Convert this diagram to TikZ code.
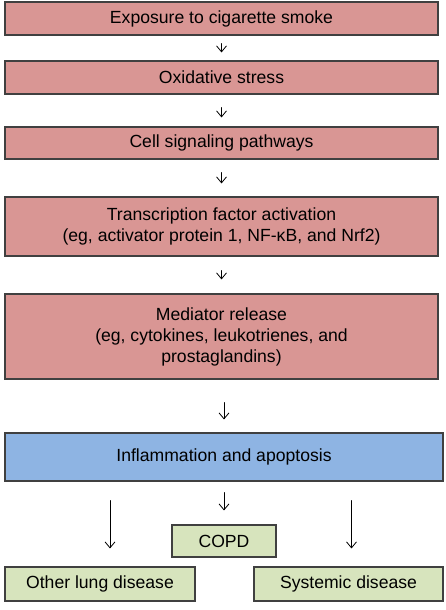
\documentclass[tikz,border=0pt]{standalone}
\usepackage{fontspec}
\setmainfont{Liberation Sans}
\usetikzlibrary{arrows.meta}
\definecolor{stepred}{HTML}{D99694}
\definecolor{stepblue}{HTML}{8EB4E3}
\definecolor{stepgreen}{HTML}{D7E4BD}
\definecolor{stepline}{HTML}{404040}
\begin{document}
\begin{tikzpicture}[x=1pt, y=-1pt, line cap=round]
    \tikzset{
      box/.style={rectangle, draw=stepline, line width=1.1pt, align=center,
        inner sep=0pt, font=\fontsize{17.6}{21}\selectfont},
      redbox/.style={box, fill=stepred, minimum width=433pt},
      flow/.style={-{Straight Barb[length=6pt, width=10pt]}, line width=0.8pt, black}
    }
  \useasboundingbox (0,0) rectangle (446,610);

  % the chain of events
  \node[redbox, minimum height=33pt] (smoke)  at (221.5,18.5)  {Exposure to cigarette smoke};
  \node[redbox, minimum height=33pt] (stress) at (221.5,77.5)  {Oxidative stress};
  \node[redbox, minimum height=32pt] (signal) at (221.5,143)   {Cell signaling pathways};
  \node[redbox, minimum height=59pt] (tf)     at (221.5,226.5)
    {Transcription factor activation\\(eg, activator protein 1, NF-κB, and Nrf2)};
  \node[redbox, minimum height=85pt] (medi)   at (221.5,336.5)
    {Mediator release\\(eg, cytokines, leukotrienes, and\\prostaglandins)};
  \node[box, fill=stepblue, minimum width=438pt, minimum height=48pt] (infl) at (224,457)
    {Inflammation and apoptosis};

  % outcomes
  \node[box, fill=stepgreen, minimum width=104pt, minimum height=32pt] (copd)  at (224,541)   {COPD};
  \node[box, fill=stepgreen, minimum width=190pt, minimum height=34pt] (lung)  at (100,584)   {Other lung disease};
  \node[box, fill=stepgreen, minimum width=189pt, minimum height=34pt] (syst)  at (348.5,584) {Systemic disease};

  \draw[flow, shorten <=8pt,  shorten >=8pt]  (smoke)  -- (stress);
  \draw[flow, shorten <=13pt, shorten >=9pt]  (stress) -- (signal);
  \draw[flow, shorten <=13pt, shorten >=13pt] (signal) -- (tf);
  \draw[flow, shorten <=14pt, shorten >=14pt] (tf)     -- (medi);
  \draw[flow, shorten <=23pt, shorten >=13pt] (medi.south -| infl) -- (infl);
  \draw[flow, shorten <=11pt, shorten >=14pt] (infl)   -- (copd);
  \draw[flow, shorten <=19pt, shorten >=18pt] ([xshift=10pt]lung.north |- infl.south) -- ([xshift=10pt]lung.north);
  \draw[flow, shorten <=19pt, shorten >=18pt] ([xshift=3pt]syst.north |- infl.south) -- ([xshift=3pt]syst.north);
\end{tikzpicture}
\end{document}
